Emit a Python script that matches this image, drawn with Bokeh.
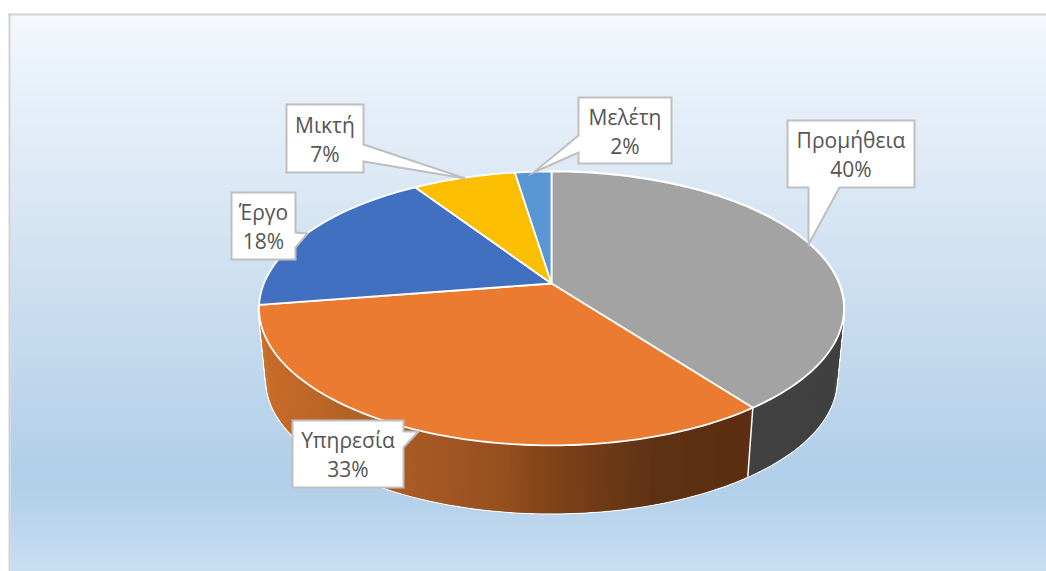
import numpy as np
from bokeh.plotting import figure
from bokeh.models import Range1d
from bokeh.core.properties import value
from bokeh.embed import file_html
from bokeh.resources import INLINE

# ---- data ----
categories = ["Προμήθεια", "Υπηρεσία", "Έργο", "Μικτή", "Μελέτη"]
shares = [39.8, 32.7, 18.3, 6.8, 2.4]
top_colors = ["#A3A3A3", "#EB7B30", "#4270C0", "#FBBE00", "#5997D4"]

# ---- layout (page pixels) ----
W, H = 1046, 571
PX0, PY0 = 0, 0
CX, APEX_Y, A, B, K = 551, 283, 287.6, 132.4, 0.182
BOTTOM_Y, BOTTOM_S = 355, 0.975
FONT = "Open Sans"
FONT_SIZE = "21px"
TEXT_COLOR = "#555555"
BOX_LINE = "#BFBFBF"

callouts = {
    "Προμήθεια": dict(box=(787, 914, 120, 187), edge="bottom", ptr=[(839, 187), (808, 244), (808, 187)]),
    "Υπηρεσία": dict(box=(292, 403, 420, 487), edge="right", ptr=[(403, 431), (418, 431), (403, 447)]),
    "Έργο": dict(box=(231, 295, 192, 259), edge="right", ptr=[(295, 232), (307, 233), (295, 247)]),
    "Μικτή": dict(box=(286, 363, 104, 172), edge="right", ptr=[(363, 144), (465, 178), (363, 161)]),
    "Μελέτη": dict(box=(578, 671, 97, 163), edge="left", ptr=[(578, 152), (533, 172), (578, 135)]),
}

bg_y = [13, 60, 170, 300, 480, 571]
bg_r = [246, 236, 222, 203, 177, 200]
bg_g = [250, 243, 234, 222, 207, 222]
bg_b = [254, 251, 246, 240, 233, 243]

side_x = [262, 400, 500, 550, 650, 748]
side_r = [201, 172, 152, 128, 96, 92]
side_g = [110, 92, 80, 68, 50, 47]
side_b = [43, 38, 32, 26, 20, 18]
GRAY_SIDE = "#414141"


def project(theta, apex_y=APEX_Y, s=1.0):
    u, v = np.sin(theta), np.cos(theta)
    w = 1 + K * v
    return CX + s * A * u / w, apex_y - s * B * v / w


def hexc(r, g, b):
    return "#%02x%02x%02x" % (int(r), int(g), int(b))


p = figure(
    width=W, height=H, output_backend="svg", toolbar_location=None,
    x_range=Range1d(PX0, PX0 + W), y_range=Range1d(PY0 + H, PY0),
    x_axis_type=None, y_axis_type=None, min_border=0,
    background_fill_color="white", border_fill_color="white", outline_line_color=None,
)
p.grid.visible = False

# background gradient, 2px bands that overlap by one pixel
rows = np.arange(15, PY0 + H)
p.quad(left=PX0 + 10, right=PX0 + W, top=rows, bottom=rows + 2,
       fill_color=[hexc(np.interp(y, bg_y, bg_r), np.interp(y, bg_y, bg_g), np.interp(y, bg_y, bg_b)) for y in rows],
       line_color=None)

# chart border (top and left)
p.quad(left=[8, 8], right=[10, PX0 + W], top=[13, 13], bottom=[PY0 + H, 15],
       fill_color="#D2D2D2", line_color=None)

# slice angles
edges = np.concatenate([[0], np.cumsum(shares)]) / sum(shares) * 2 * np.pi

# wall outline: a white halo whose inner half is covered by the fills
th_all = np.linspace(edges[0], edges[2], 300)
tx, ty = project(th_all)
bx, by = project(th_all, BOTTOM_Y, BOTTOM_S)
hx = [[tx[i], tx[i + 1], bx[i + 1], bx[i]] for i in range(len(th_all) - 1)]
hy = [[ty[i], ty[i + 1], by[i + 1], by[i]] for i in range(len(th_all) - 1)]
p.patches(hx, hy, fill_color="white", line_color="white", line_width=2.4)

# walls, overlapping strips: flat grey, orange coloured by position
for i_slice in (0, 1):
    th = np.linspace(edges[i_slice], edges[i_slice + 1], 160)
    x1, y1 = project(th)
    x2, y2 = project(th, BOTTOM_Y, BOTTOM_S)
    qx, qy, qc = [], [], []
    for i in range(len(th) - 1):
        j = min(i + 2, len(th) - 1)
        qx.append([x1[i], x1[j], x2[j], x2[i]])
        qy.append([y1[i], y1[j], y2[j], y2[i]])
        xm = (x2[i] + x2[i + 1]) / 2
        qc.append(GRAY_SIDE if i_slice == 0 else hexc(np.interp(xm, side_x, side_r),
                                                      np.interp(xm, side_x, side_g),
                                                      np.interp(xm, side_x, side_b)))
    p.patches(qx, qy, fill_color=qc, line_color=None)

# white seam between the two walls
sx1, sy1 = project(edges[1])
sx2, sy2 = project(edges[1], BOTTOM_Y, BOTTOM_S)
p.line([sx1, sx2], [sy1, sy2], line_color="white", line_width=1.5)

# top face
wx, wy = [], []
for i in range(len(shares)):
    th = np.linspace(edges[i], edges[i + 1], max(int(np.degrees(edges[i + 1] - edges[i])), 4) + 1)
    x, y = project(th)
    wx.append([CX] + list(x))
    wy.append([APEX_Y] + list(y))
p.patches(wx, wy, fill_color=top_colors, line_color="white", line_width=1.8, line_join="round")

# callouts
total = sum(shares)
for name, share in zip(categories, shares):
    c = callouts[name]
    l, r, t, b = c["box"]
    before = {"right": [(l, t), (r, t)], "bottom": [(l, t), (r, t), (r, b)],
              "left": [(l, t), (r, t), (r, b), (l, b)]}[c["edge"]]
    after = {"right": [(r, b), (l, b)], "bottom": [(l, b)], "left": []}[c["edge"]]
    pts = before + c["ptr"] + after
    p.patch([q[0] for q in pts], [q[1] for q in pts], fill_color="white",
            line_color=BOX_LINE, line_width=2, line_join="miter")
    xc, yc = (l + r) / 2, (t + b) / 2
    p.text([xc], [yc - 14], text=[name], text_align="center", text_baseline="middle",
           text_font=value(FONT), text_font_size=FONT_SIZE, text_color=TEXT_COLOR)
    p.text([xc], [yc + 15], text=[f"{round(share / total * 100)}%"], text_align="center",
           text_baseline="middle", text_font=value(FONT), text_font_size=FONT_SIZE, text_color=TEXT_COLOR)

open("out.html", "w").write(file_html(p, INLINE))
